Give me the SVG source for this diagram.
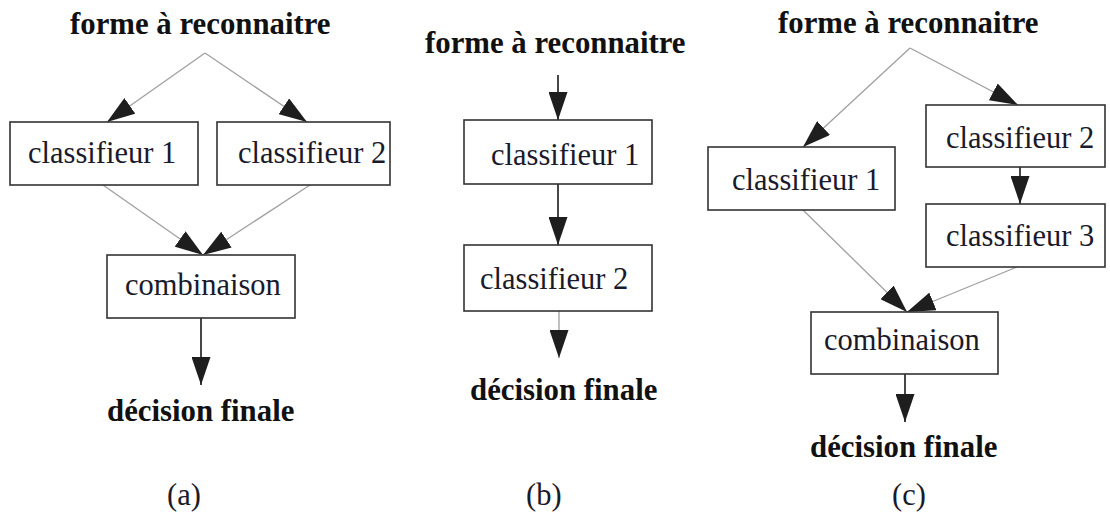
<svg xmlns="http://www.w3.org/2000/svg" width="1110" height="516" viewBox="0 0 1110 516">
  <style>
    .box { fill: #ffffff; stroke: #333333; stroke-width: 1.6; }
    .lbl { font-family: 'Liberation Serif', 'DejaVu Serif', serif; font-size: 30.5px; fill: #1a1a2a; }
    .term { font-family: 'Liberation Serif', 'DejaVu Serif', serif; font-size: 30.8px; font-weight: bold; fill: #111111; }
    .light { stroke: #a0a0a0; stroke-width: 1.3; fill: none; marker-end: url(#head); }
    .dark { stroke: #333333; stroke-width: 1.8; fill: none; marker-end: url(#head); }
  </style>
  <defs>
    <marker id="head" viewBox="0 0 28 19" refX="28" refY="9.5" markerWidth="28" markerHeight="19" markerUnits="userSpaceOnUse" orient="auto">
      <path d="M0,0 L28,9.5 L0,19 z" fill="#1e1e1e"/>
    </marker>
  </defs>
  <rect width="1110" height="516" fill="#ffffff"/>

  <g id="connectors">
    <!-- (a) parallel -->
    <line class="light" x1="205" y1="53" x2="107" y2="122"/>
    <line class="light" x1="205" y1="53" x2="307" y2="122"/>
    <line class="light" x1="103" y1="185" x2="203" y2="255"/>
    <line class="light" x1="310" y1="185" x2="203" y2="255"/>
    <line class="dark" x1="201" y1="318" x2="201" y2="385"/>
    <!-- (b) serial -->
    <line class="dark" x1="558" y1="75" x2="558" y2="120"/>
    <line class="dark" x1="558" y1="184" x2="558" y2="245"/>
    <line class="light" x1="559" y1="311" x2="559" y2="358"/>
    <!-- (c) hybrid -->
    <line class="light" x1="910" y1="48" x2="803" y2="147"/>
    <line class="light" x1="910" y1="48" x2="1018" y2="105"/>
    <line class="dark" x1="1020" y1="167" x2="1020" y2="204"/>
    <line class="light" x1="803" y1="210" x2="907" y2="312"/>
    <line class="light" x1="1017" y1="267" x2="907" y2="312"/>
    <line class="dark" x1="905" y1="374" x2="905" y2="422"/>
  </g>

  <!-- (a) parallel combination -->
  <g id="a-input"><text class="term" x="70" y="34">forme à reconnaitre</text></g>
  <g id="a-clf1"><rect class="box" x="10" y="122" width="188" height="63"/><text class="lbl" x="28" y="163">classifieur 1</text></g>
  <g id="a-clf2"><rect class="box" x="217" y="122" width="173" height="63"/><text class="lbl" x="238" y="163">classifieur 2</text></g>
  <g id="a-comb"><rect class="box" x="107" y="255" width="188" height="63"/><text class="lbl" x="125" y="295">combinaison</text></g>
  <g id="a-output"><text class="term" x="107" y="421">décision finale</text></g>
  <g id="a-caption"><text class="lbl" x="167" y="505">(a)</text></g>

  <!-- (b) serial combination -->
  <g id="b-input"><text class="term" x="425" y="53">forme à reconnaitre</text></g>
  <g id="b-clf1"><rect class="box" x="464" y="120" width="188" height="64"/><text class="lbl" x="491" y="165">classifieur 1</text></g>
  <g id="b-clf2"><rect class="box" x="464" y="245" width="188" height="66"/><text class="lbl" x="480" y="289">classifieur 2</text></g>
  <g id="b-output"><text class="term" x="470" y="400">décision finale</text></g>
  <g id="b-caption"><text class="lbl" x="526" y="505">(b)</text></g>

  <!-- (c) hybrid combination -->
  <g id="c-input"><text class="term" x="778" y="33">forme à reconnaitre</text></g>
  <g id="c-clf1"><rect class="box" x="708" y="147" width="187" height="63"/><text class="lbl" x="732" y="190">classifieur 1</text></g>
  <g id="c-clf2"><rect class="box" x="926" y="105" width="179" height="62"/><text class="lbl" x="946" y="148">classifieur 2</text></g>
  <g id="c-clf3"><rect class="box" x="926" y="204" width="179" height="63"/><text class="lbl" x="946" y="246">classifieur 3</text></g>
  <g id="c-comb"><rect class="box" x="811" y="312" width="187" height="62"/><text class="lbl" x="824" y="350">combinaison</text></g>
  <g id="c-output"><text class="term" x="810" y="457">décision finale</text></g>
  <g id="c-caption"><text class="lbl" x="892" y="505">(c)</text></g>
</svg>
